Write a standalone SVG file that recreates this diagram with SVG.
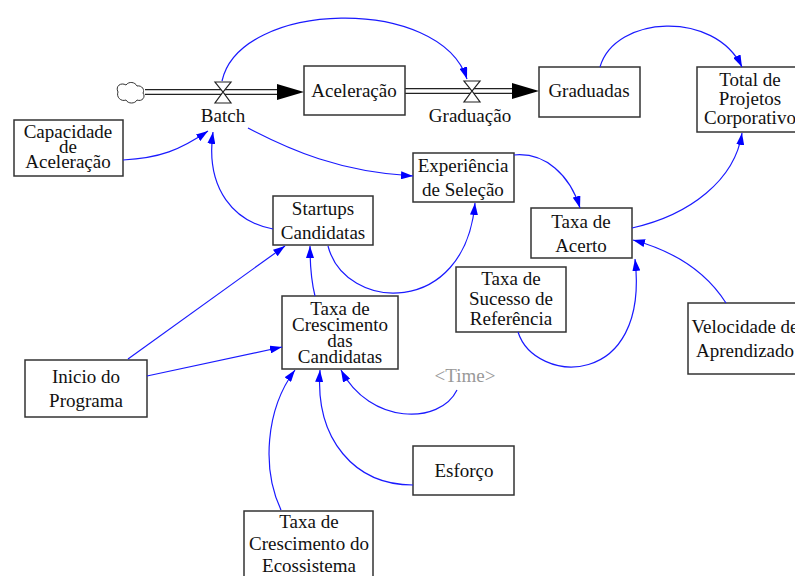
<svg xmlns="http://www.w3.org/2000/svg" width="795" height="576" viewBox="0 0 795 576">
<defs>
<style>
text{font-family:"Liberation Serif","Times New Roman",serif;font-size:19px;fill:#111;text-anchor:middle}
.box{fill:#fff;stroke:#333;stroke-width:1.5}
.c{fill:none;stroke:#1a1aff;stroke-width:1.2;marker-end:url(#ah)}
.time{fill:#999}
</style>
<marker id="ah" viewBox="0 0 12 8" refX="12" refY="4" markerWidth="12" markerHeight="8" markerUnits="userSpaceOnUse" orient="auto">
<path d="M0,0 L12,4 L0,8 Z" fill="#0000ff"/>
</marker>
</defs>
<rect width="795" height="576" fill="#fff"/>

<g id="flows">
<path d="M118,92 c-3,-6 3,-10 8,-7 c3,-4 9,-3 11,1 c5,-1 8,4 6,7 c3,4 -1,9 -6,7 c-2,4 -9,4 -11,0 c-5,2 -10,-3 -8,-8 z" fill="#fff" stroke="#333" stroke-width="1"/>
<line x1="145" y1="92" x2="279" y2="92" stroke="#222" stroke-width="6"/>
<line x1="144" y1="92" x2="280" y2="92" stroke="#fff" stroke-width="3.4"/>
<path d="M277,84 L304,92 L277,100 Z" fill="#000"/>
<line x1="405" y1="91" x2="514" y2="91" stroke="#222" stroke-width="6"/>
<line x1="405" y1="91" x2="515" y2="91" stroke="#fff" stroke-width="3.4"/>
<path d="M512,83 L539,91 L512,99 Z" fill="#000"/>
</g>

<g id="batch">
<path d="M215,82 L231,82 L223,92 Z M215,103 L231,103 L223,92 Z" fill="#fff" stroke="#222" stroke-width="1.2"/>
<text x="223" y="122">Batch</text>
</g>
<g id="graduacao">
<path d="M464,81 L480,81 L472,91 Z M464,102 L480,102 L472,91 Z" fill="#fff" stroke="#222" stroke-width="1.2"/>
<text x="470" y="122">Graduação</text>
</g>

<g id="aceleracao">
<rect class="box" x="304" y="66" width="101" height="49"/>
<text x="354" y="97">Aceleração</text>
</g>
<g id="graduadas">
<rect class="box" x="539" y="67" width="101" height="50"/>
<text x="589" y="97">Graduadas</text>
</g>
<g id="total">
<rect class="box" x="697" y="67" width="106" height="65"/>
<text x="750" y="86">Total de</text>
<text x="750" y="105">Projetos</text>
<text x="750" y="124">Corporativo</text>
</g>
<g id="capacidade">
<rect class="box" x="14" y="120" width="109" height="56"/>
<text x="68" y="138">Capacidade</text>
<text x="68" y="153">de</text>
<text x="68" y="168">Aceleração</text>
</g>
<g id="startups">
<rect class="box" x="273" y="196" width="100" height="49"/>
<text x="323" y="215">Startups</text>
<text x="323" y="239">Candidatas</text>
</g>
<g id="experiencia">
<rect class="box" x="413" y="153" width="101" height="49"/>
<text x="463" y="172">Experiência</text>
<text x="463" y="196">de Seleção</text>
</g>
<g id="taxacresc">
<rect class="box" x="282" y="296" width="116" height="73"/>
<text x="340" y="315">Taxa de</text>
<text x="340" y="331">Crescimento</text>
<text x="340" y="347">das</text>
<text x="340" y="363">Candidatas</text>
</g>
<g id="sucesso">
<rect class="box" x="456" y="267" width="110" height="65"/>
<text x="511" y="285">Taxa de</text>
<text x="511" y="305">Sucesso de</text>
<text x="511" y="325">Referência</text>
</g>
<g id="acerto">
<rect class="box" x="531" y="208" width="101" height="50"/>
<text x="581" y="228">Taxa de</text>
<text x="581" y="252">Acerto</text>
</g>
<g id="velocidade">
<rect class="box" x="688" y="303" width="115" height="71"/>
<text x="745" y="333">Velocidade de</text>
<text x="745" y="357">Aprendizado</text>
</g>
<g id="inicio">
<rect class="box" x="25" y="360" width="122" height="57"/>
<text x="86" y="383">Inicio do</text>
<text x="86" y="407">Programa</text>
</g>
<g id="esforco">
<rect class="box" x="413" y="446" width="101" height="49"/>
<text x="464" y="477">Esforço</text>
</g>
<g id="ecossistema">
<rect class="box" x="244" y="511" width="129" height="70"/>
<text x="309" y="528">Taxa de</text>
<text x="309" y="550">Crescimento do</text>
<text x="309" y="572">Ecossistema</text>
</g>
<g id="time">
<text class="time" x="465" y="382">&lt;Time&gt;</text>
</g>

<g id="connectors">
<path class="c" d="M222,81 C240,0 440,-5 467,79"/>
<path class="c" d="M600,67 C615,15 715,10 742,67"/>
<path class="c" d="M123,160 C160,158 180,150 208,131"/>
<path class="c" d="M273,229 C235,222 205,190 213,132"/>
<path class="c" d="M248,128 C290,150 340,172 413,176"/>
<path class="c" d="M514,155 C545,152 570,175 580,208"/>
<path class="c" d="M328,246 C345,312 465,318 475,203"/>
<path class="c" d="M315,296 C311,280 310,265 310,246"/>
<path class="c" d="M128,359 L285,246"/>
<path class="c" d="M147,376 L282,347"/>
<path class="c" d="M281,510 C262,470 265,410 295,370"/>
<path class="c" d="M413,485 C355,485 315,440 320,370"/>
<path class="c" d="M457,390 C440,425 370,425 341,370"/>
<path class="c" d="M518,332 C535,385 650,390 635,259"/>
<path class="c" d="M726,303 C705,270 670,250 633,240"/>
<path class="c" d="M632,228 C690,215 735,180 742,133"/>
</g>
</svg>
